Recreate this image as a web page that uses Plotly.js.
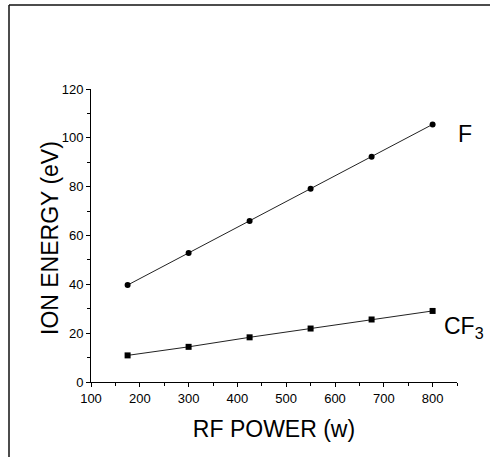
<!DOCTYPE html>
<html>
<head>
<meta charset="utf-8">
<script src="https://cdn.plot.ly/plotly-3.0.1.min.js"></script>
<style>html,body{margin:0;padding:0;background:#fff;}#chart{width:490px;height:457px;}</style>
</head>
<body>
<div id="chart"></div>
<script>
const rfPower = [175, 300, 425, 550, 675, 800];
const energyF = [39.7, 52.8, 65.9, 79.1, 92.3, 105.5];
const energyCF3 = [10.9, 14.4, 18.3, 21.9, 25.6, 29.1];
const seriesLabels = ['F', 'CF<sub>3</sub>'];
const xTitle = 'RF POWER (w)';
const yTitle = 'ION ENERGY (eV)';
const xTickVals = [100, 200, 300, 400, 500, 600, 700, 800];
const yTickVals = [0, 20, 40, 60, 80, 100, 120];

const W = 490, H = 457;
const mL = 91, mR = 33, mT = 89, mB = 75;
const pw = W - mL - mR, ph = H - mT - mB;
const px = v => (v - mL) / pw;
const py = v => (H - mB - v) / ph;

const traces = [
  {x: rfPower, y: energyF, mode: 'lines+markers', type: 'scatter',
   line: {color: '#222', width: 1}, marker: {symbol: 'circle', size: 6, color: '#000'}},
  {x: rfPower, y: energyCF3, mode: 'lines+markers', type: 'scatter',
   line: {color: '#222', width: 1}, marker: {symbol: 'square', size: 6, color: '#000'}}
];

const axisCommon = {
  showgrid: false, zeroline: false, showline: true, linecolor: '#000', linewidth: 1,
  ticks: 'outside', ticklen: 4, tickcolor: '#000', tickwidth: 1,
  tickfont: {family: 'Liberation Sans, Arial, sans-serif', size: 13, color: '#000'},
  minor: {ticks: 'outside', ticklen: 3, tickcolor: '#000', tickwidth: 1}
};

const layout = {
  width: W, height: H,
  margin: {l: mL, r: mR, t: mT, b: mB},
  paper_bgcolor: '#fff', plot_bgcolor: '#fff',
  showlegend: false,
  font: {family: 'Liberation Sans, Arial, sans-serif', color: '#000'},
  xaxis: Object.assign({}, axisCommon, {
    range: [100, 850], tickvals: xTickVals, minor: Object.assign({}, axisCommon.minor, {dtick: 50, tick0: 100}),
    title: {text: xTitle, font: {size: 23, color: '#000'}, standoff: 16}
  }),
  yaxis: Object.assign({}, axisCommon, {
    range: [0, 120], tickvals: yTickVals, minor: Object.assign({}, axisCommon.minor, {dtick: 10, tick0: 0})
  }),
  annotations: [
    {x: px(50), y: py(238), xref: 'paper', yref: 'paper', text: yTitle, showarrow: false, textangle: -90,
     xanchor: 'center', yanchor: 'middle', font: {size: 23, color: '#000'}},
    {x: 847, y: 101.4, xref: 'x', yref: 'y', text: seriesLabels[0], showarrow: false,
     xanchor: 'left', yanchor: 'middle', font: {size: 23, color: '#000'}},
    {x: 820, y: 22.5, xref: 'x', yref: 'y', text: seriesLabels[1], showarrow: false,
     xanchor: 'left', yanchor: 'middle', font: {size: 23, color: '#000'}}
  ],
  shapes: [
    {type: 'line', xref: 'paper', yref: 'paper', x0: px(9), x1: px(W), y0: py(5), y1: py(5),
     line: {color: '#111', width: 1.5}},
    {type: 'line', xref: 'paper', yref: 'paper', x0: px(9), x1: px(9), y0: py(5), y1: py(H),
     line: {color: '#111', width: 1.5}}
  ]
};

Plotly.newPlot('chart', traces, layout, {displayModeBar: false, staticPlot: true});
</script>
</body>
</html>
